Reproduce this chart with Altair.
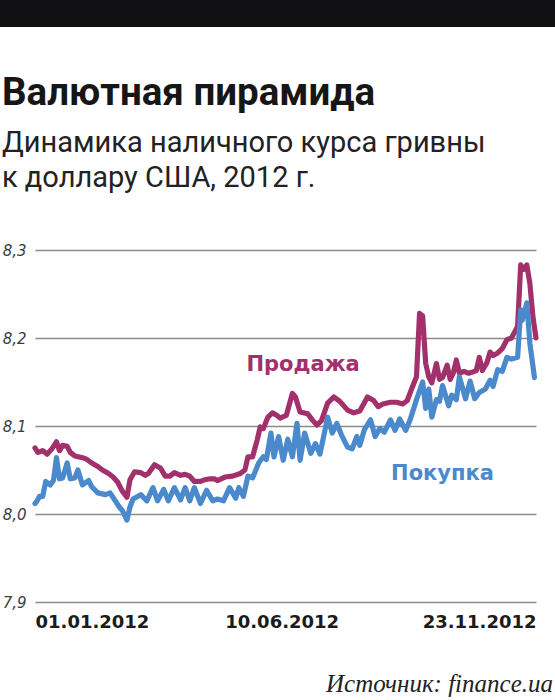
import altair as alt
import pandas as pd

# ---- data ----
# days since 2012-01-01
sale_days = [0, 2, 5, 8, 11, 14, 16, 18, 21, 23, 26, 31, 34, 37, 41, 44, 48, 51, 54, 57,
             60, 62, 65, 69, 72, 74, 78, 82, 85, 88, 91, 95, 98, 101, 104, 108, 111, 114, 117, 119,
             124, 129, 134, 137, 139, 142, 145, 147, 149, 152, 155, 158, 160, 164, 168, 170, 173, 178, 181, 184,
             187, 191, 195, 199, 204, 208, 212, 217, 221, 224, 227, 232, 236, 240, 243, 246, 249, 251, 253, 255,
             257, 259, 262, 264, 266, 269, 271, 273, 275, 277, 280, 283, 285, 288, 290, 292, 295, 297, 299, 302,
             305, 308, 311, 315, 317, 319, 321, 323, 325, 327]
sale_vals = [8.075, 8.070, 8.072, 8.068, 8.074, 8.082, 8.072, 8.078, 8.077, 8.070, 8.066, 8.064, 8.062, 8.058, 8.054, 8.050, 8.046, 8.042, 8.036, 8.026,
             8.019, 8.039, 8.048, 8.047, 8.044, 8.046, 8.056, 8.052, 8.043, 8.043, 8.047, 8.044, 8.045, 8.043, 8.037, 8.037, 8.039, 8.040, 8.040, 8.038,
             8.042, 8.043, 8.046, 8.050, 8.065, 8.065, 8.084, 8.099, 8.097, 8.110, 8.115, 8.112, 8.109, 8.112, 8.137, 8.133, 8.116, 8.114, 8.107, 8.101,
             8.106, 8.126, 8.133, 8.128, 8.118, 8.115, 8.117, 8.133, 8.129, 8.122, 8.125, 8.127, 8.127, 8.125, 8.129, 8.143, 8.156, 8.228, 8.225, 8.171,
             8.156, 8.149, 8.171, 8.153, 8.155, 8.169, 8.153, 8.160, 8.175, 8.160, 8.162, 8.160, 8.161, 8.163, 8.178, 8.163, 8.172, 8.184, 8.180, 8.183,
             8.188, 8.198, 8.200, 8.213, 8.283, 8.278, 8.283, 8.262, 8.224, 8.200]

buy_days = [0, 1, 3, 5, 7, 10, 12, 13, 14, 16, 18, 21, 23, 26, 28, 31, 35, 37, 41, 46,
            49, 52, 55, 57, 60, 62, 64, 69, 73, 77, 80, 84, 87, 91, 95, 98, 101, 104, 108, 112,
            116, 119, 123, 127, 131, 133, 136, 139, 142, 146, 149, 151, 154, 156, 159, 162, 165, 168, 171, 173,
            176, 180, 183, 186, 191, 194, 197, 200, 204, 207, 210, 212, 215, 219, 222, 225, 228, 232, 235, 238,
            242, 245, 249, 253, 255, 257, 259, 262, 264, 266, 270, 272, 275, 277, 281, 284, 287, 290, 294, 297,
            299, 302, 305, 308, 311, 315, 317, 318, 321, 323, 326]
buy_vals = [8.012, 8.014, 8.020, 8.020, 8.037, 8.033, 8.038, 8.050, 8.064, 8.040, 8.041, 8.058, 8.040, 8.041, 8.050, 8.033, 8.038, 8.031, 8.024, 8.022,
            8.024, 8.016, 8.008, 8.004, 7.993, 8.008, 8.017, 8.022, 8.015, 8.030, 8.015, 8.028, 8.015, 8.030, 8.016, 8.030, 8.015, 8.030, 8.012, 8.027,
            8.015, 8.017, 8.015, 8.030, 8.018, 8.030, 8.020, 8.043, 8.041, 8.058, 8.065, 8.062, 8.092, 8.065, 8.088, 8.061, 8.085, 8.065, 8.103, 8.061,
            8.092, 8.069, 8.080, 8.068, 8.110, 8.092, 8.103, 8.090, 8.076, 8.074, 8.088, 8.078, 8.096, 8.107, 8.088, 8.097, 8.093, 8.107, 8.095, 8.108,
            8.095, 8.108, 8.130, 8.150, 8.120, 8.142, 8.110, 8.130, 8.128, 8.146, 8.123, 8.135, 8.130, 8.156, 8.131, 8.151, 8.131, 8.138, 8.142, 8.152,
            8.145, 8.164, 8.162, 8.178, 8.176, 8.178, 8.232, 8.220, 8.240, 8.194, 8.155]

series_names = ["Продажа", "Покупка"]
series_colors = ["#A1306B", "#4A89CB"]
label_days = [175, 266]
label_vals = [8.1625, 8.0386]

y_ticks = [7.9, 8.0, 8.1, 8.2, 8.3]

title_text = "Валютная пирамида"
subtitle_1 = "Динамика наличного курса гривны"
subtitle_2 = "к доллару США, 2012 г."
source_text = "Источник: finance.ua"

start = pd.Timestamp("2012-01-01")


def to_dates(days):
    return [(start + pd.Timedelta(days=d)).strftime("%Y-%m-%d") for d in days]


sale_df = pd.DataFrame({"date": to_dates(sale_days), "rate": sale_vals, "series": series_names[0]})
buy_df = pd.DataFrame({"date": to_dates(buy_days), "rate": buy_vals, "series": series_names[1]})
lab_df = pd.DataFrame({"date": to_dates(label_days), "rate": label_vals, "series": series_names})

color_scale = alt.Scale(domain=series_names, range=series_colors)

x_enc = alt.X(
    "date:T",
    scale=alt.Scale(type="utc",
                    domain=[alt.DateTime(year=2012, month=1, date=1, utc=True),
                            alt.DateTime(year=2012, month=11, date=23, utc=True)]),
    axis=alt.Axis(
        values=[alt.DateTime(year=2012, month=1, date=1, utc=True),
                alt.DateTime(year=2012, month=6, date=10, utc=True),
                alt.DateTime(year=2012, month=11, date=23, utc=True)],
        labelExpr="utcFormat(datum.value, '%d.%m.%Y')",
        labelFlush=True, grid=False, domain=False, ticks=False,
        labelFont="DejaVu Sans", labelFontWeight="bold", labelFontSize=18, labelColor="#1b1b1b",
        labelPadding=11, title=None),
)
y_enc = alt.Y(
    "rate:Q",
    scale=alt.Scale(domain=[7.9, 8.3], nice=False, zero=False),
    axis=alt.Axis(
        values=y_ticks, grid=True, gridColor="#8a8a8a", gridWidth=1.3, domain=False, ticks=False,
        labelExpr="replace(format(datum.value, '.1f'), '.', ',')",
        labelFont="DejaVu Sans", labelFontStyle="italic", labelFontSize=15, labelColor="#3c3c3c",
        labelPadding=9, labelBaseline="middle", title=None),
)
c_enc = alt.Color("series:N", scale=color_scale, legend=None)

base_sale = alt.Chart(sale_df).mark_line(strokeWidth=5.2, strokeJoin="round", strokeCap="round").encode(
    x=x_enc, y=y_enc, color=c_enc)
base_buy = alt.Chart(buy_df).mark_line(strokeWidth=5.2, strokeJoin="round", strokeCap="round").encode(
    x=x_enc, y=y_enc, color=c_enc)

labels = alt.Chart(lab_df).mark_text(font="DejaVu Sans", fontWeight="bold", fontSize=21,
                                     align="center", baseline="alphabetic").encode(
    x=x_enc, y=y_enc, text="series:N", color=c_enc)

one = pd.DataFrame({"k": [0]})

bar = alt.Chart(one).mark_rect(color="#111114").encode(
    x=alt.value(-35), x2=alt.value(520), y=alt.value(-250), y2=alt.value(-223))


def txt(s, x, y, **kw):
    return alt.Chart(pd.DataFrame({"t": [s]})).mark_text(**kw).encode(
        x=alt.value(x), y=alt.value(y), text="t:N")


title = txt(title_text, -33, -145, font="Roboto", fontWeight="bold", fontSize=38.5,
            align="left", baseline="alphabetic", color="#161616")
sub1 = txt(subtitle_1, -33, -98, font="Roboto", fontSize=29,
           align="left", baseline="alphabetic", color="#222222")
sub2 = txt(subtitle_2, -33, -63, font="Roboto", fontSize=29,
           align="left", baseline="alphabetic", color="#222222")
source = txt(source_text, 518, 442, font="Liberation Serif", fontStyle="italic", fontSize=25,
             align="right", baseline="alphabetic", color="#222222")

chart = alt.layer(base_sale, base_buy, labels, bar, title, sub1, sub2, source).properties(
    width=501, height=352,
    autosize=alt.AutoSizeParams(type="none"),
    padding={"left": 35, "top": 250, "right": 19, "bottom": 98},
    background="white",
).configure_view(stroke=None)

chart.save("out.html", embed_options={"renderer": "svg", "actions": False})
